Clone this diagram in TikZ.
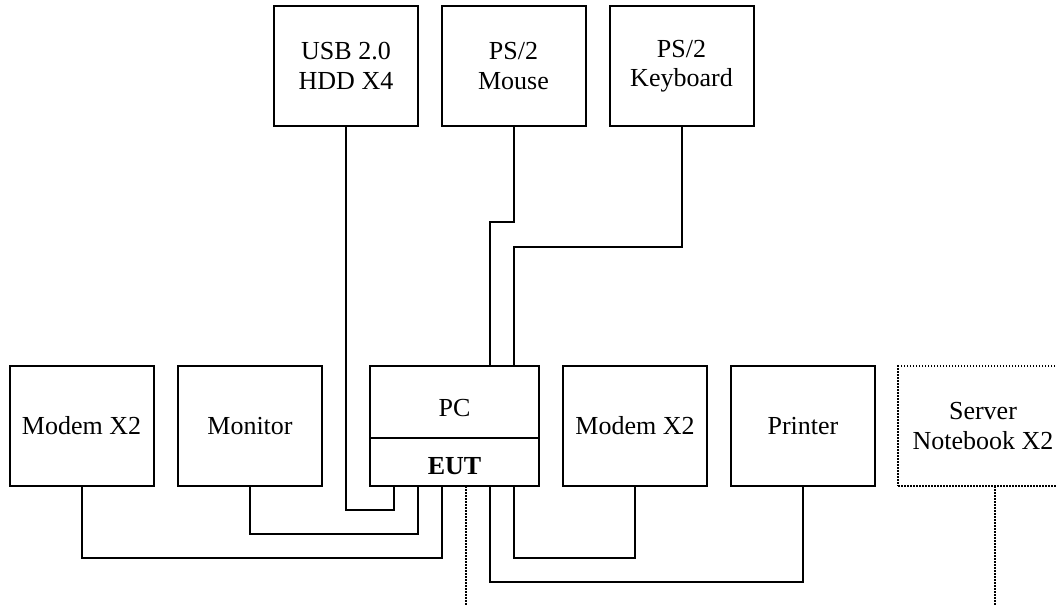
\documentclass[tikz,border=0pt]{standalone}
\usepackage{fontspec}
\setmainfont{Liberation Serif}

\begin{document}
\begin{tikzpicture}[x=0.5pt, y=-0.5pt, line width=1pt,
    unit/.style = {draw, rectangle, inner sep=0pt, outer sep=0pt, minimum width=72pt, minimum height=60pt, align=center, font={\fontsize{13}{14.8}\selectfont}},
    pcpart/.style = {unit, minimum width=84.5pt},
    remote/.style = {unit, line width=0.75pt, dash pattern=on 0.75pt off 0.75pt, minimum width=85pt},
    link/.style = {line width=0.75pt, dash pattern=on 0.75pt off 0.75pt}]
    \clip (0,0) rectangle (1056,605);

    \node[unit] (usb) at (346,66) {USB 2.0\\HDD X4};
    \node[unit] (mouse) at (513.5,66) {PS/2\\Mouse};
    \node[unit] (kbd) at (681.5,66) {PS/2\\Keyboard};
    \node[unit] (modema) at (81.5,426) {Modem X2};
    \node[unit] (monitor) at (250,426) {Monitor};
    \node[pcpart, minimum height=36pt, text height=15pt] (pc) at (454.5,402) {PC};
    \node[pcpart, minimum height=24pt, text height=12.5pt, font={\fontsize{13}{14.8}\selectfont\bfseries}] (eut) at (454.5,462) {EUT};
    \node[unit] (modemb) at (635,426) {Modem X2};
    \node[unit] (printer) at (803,426) {Printer};
    \node[remote] (server) at (983,426) {Server\\Notebook X2};

    \path (eut.south west) ++(24,0) coordinate (b1) ++(24,0) coordinate (b2) ++(24,0) coordinate (b3)
        ++(24,0) coordinate (b4) ++(24,0) coordinate (b5) ++(24,0) coordinate (b6);
    \path (pc.north west) ++(120,0) coordinate (t5) ++(24,0) coordinate (t6);

    \draw (usb.south) -- ++(0,384) -| (b1);
    \draw (mouse.south) -- ++(0,96) -| (t5);
    \draw (kbd.south) -- ++(0,121) -| (t6);
    \draw (monitor.south) -- ++(0,48) -| (b2);
    \draw (modema.south) -- ++(0,72) -| (b3);
    \draw (printer.south) -- ++(0,96) -| (b5);
    \draw (modemb.south) -- ++(0,72) -| (b6);
    \draw[link] (b4) -- ++(0,125);
    \draw[link] (server.south west) ++(97,0) -- ++(0,125);
\end{tikzpicture}
\end{document}
